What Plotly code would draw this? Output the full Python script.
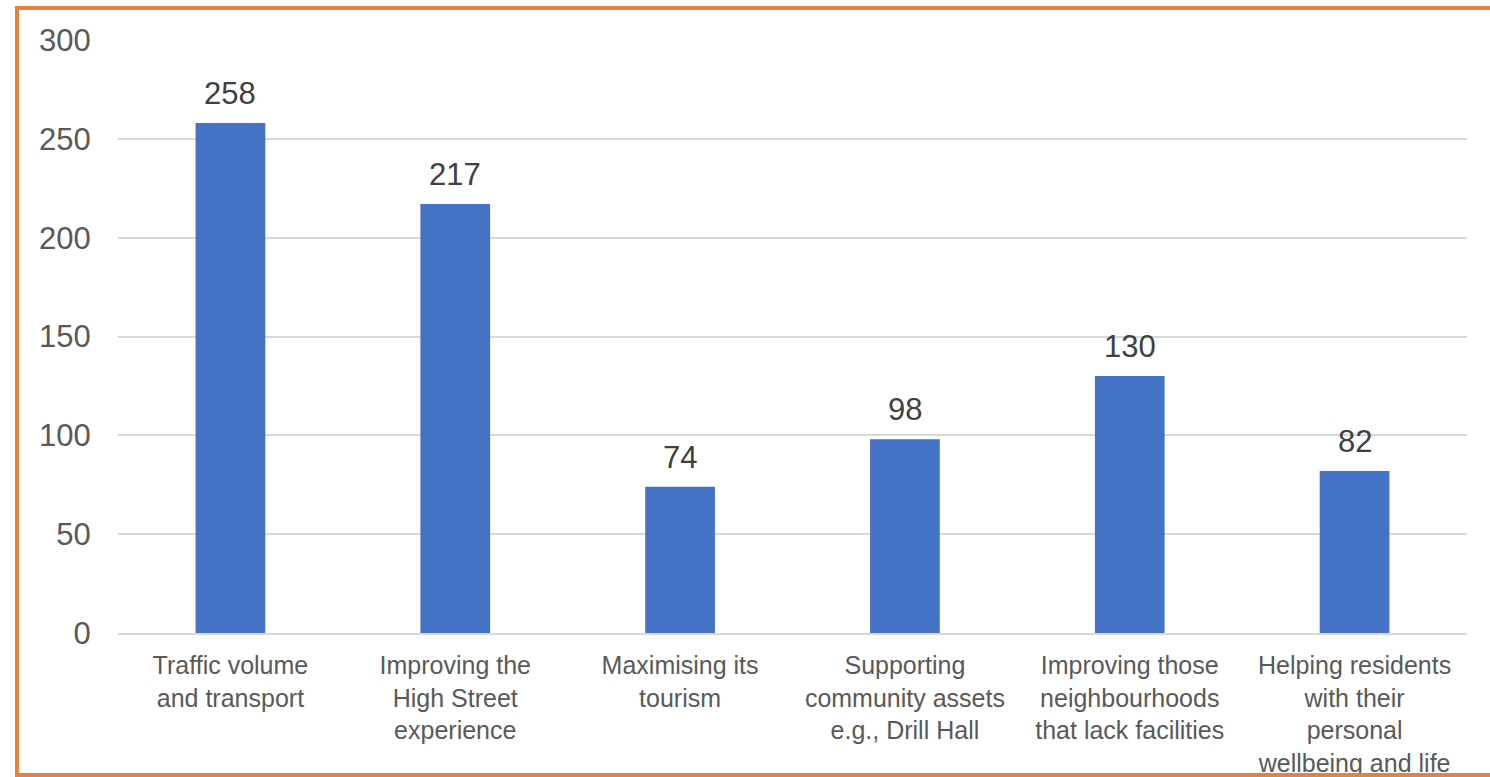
import plotly.graph_objects as go

categories = [
    "Traffic volume<br>and transport",
    "Improving the<br>High Street<br>experience",
    "Maximising its<br>tourism",
    "Supporting<br>community assets<br>e.g., Drill Hall",
    "Improving those<br>neighbourhoods<br>that lack facilities",
    "Helping residents<br>with their<br>personal<br>wellbeing and life",
]
values = [258, 217, 74, 98, 130, 82]
y_ticks = [0, 50, 100, 150, 200, 250, 300]

FONT = "Liberation Sans, Arial, sans-serif"

fig = go.Figure()
fig.add_trace(go.Bar(
    x=categories, y=values,
    marker=dict(color="#4472C4", line=dict(width=0)),
    width=0.31,
    hoverinfo="skip",
))

for c, v in zip(categories, values):
    fig.add_annotation(
        x=c, y=v, text=str(v), showarrow=False,
        yanchor="bottom", yshift=10,
        font=dict(family=FONT, size=31, color="#404040"),
    )

W, H = 1490, 777
l, r, t, b = 118, 23, 40, 144
pw, ph = W - l - r, H - t - b

def px(x):
    return (x - l) / pw

def py(y):
    return (H - b - y) / ph

fig.add_shape(
    type="rect", xref="paper", yref="paper",
    x0=px(17), x1=px(1510), y0=py(775), y1=py(8),
    line=dict(color="#E8803F", width=4),
    fillcolor="rgba(0,0,0,0)", layer="above",
)

fig.update_layout(
    width=W, height=H, autosize=False,
    margin=dict(l=l, r=r, t=t, b=b, pad=0),
    paper_bgcolor="white", plot_bgcolor="white",
    showlegend=False,
    font=dict(family=FONT, color="#595959"),
    xaxis=dict(
        automargin=False,
        showgrid=False, showline=True, linecolor="#D9D9D9", linewidth=2,
        ticks="outside", ticklen=9, tickcolor="rgba(0,0,0,0)",
        tickfont=dict(family=FONT, size=25, color="#595959"),
        tickangle=0,
    ),
    yaxis=dict(
        automargin=False,
        range=[0, 300], tickvals=y_ticks,
        showgrid=True, gridcolor="#D9D9D9", gridwidth=2,
        zeroline=False, showline=False,
        ticks="outside", ticklen=20, tickcolor="rgba(0,0,0,0)",
        tickfont=dict(family=FONT, size=31, color="#595959"),
    ),
)

fig.write_html(
    "out.html",
    config={"responsive": False, "displayModeBar": False},
    post_script="document.body.style.margin='0';",
)
